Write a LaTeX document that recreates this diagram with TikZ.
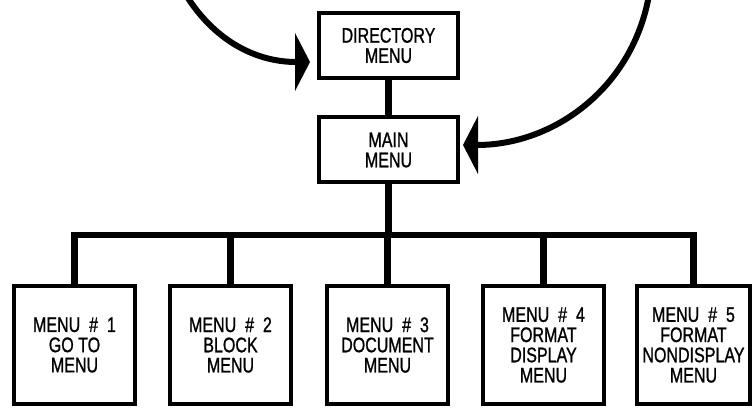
\documentclass[tikz,border=0pt]{standalone}
\usepackage{fontspec}
\setmainfont{Liberation Sans}[FakeStretch=0.76,FakeBold=1]
\usepackage{tikz}
\usetikzlibrary{arrows.meta,positioning,calc}

\begin{document}
\begin{tikzpicture}[
    box/.style={draw, line width=0.08cm, minimum width=2.78cm, minimum height=1.3cm, align=center, font=\fontsize{12}{11.5}\selectfont},
    menubox/.style={box, minimum width=2.42cm, minimum height=2.36cm},
    link/.style={line width=0.13cm},
    bigarrow/.style={-{Triangle[length=0.3cm,width=1.15cm]}, line width=0.12cm}
]
\useasboundingbox (0,0) rectangle (15.04,-8.18);

% Top boxes
\node[box] (dir) at (7.77,-0.91) {DIRECTORY\\MENU};
\node[box] (main) at (7.77,-3.0) {MAIN\\MENU};
\draw[link] (dir) -- (main);

% Sub menus
\node[menubox] (m1) at (1.49,-6.9) {MENU \ \# \ 1\\GO TO\\MENU};
\node[menubox] (m2) at (4.61,-6.9) {MENU \ \# \ 2\\BLOCK\\MENU};
\node[menubox] (m3) at (7.75,-6.9) {MENU \ \# \ 3\\DOCUMENT\\MENU};
\node[menubox] (m4) at (10.87,-6.9) {MENU \ \# \ 4\\FORMAT\\DISPLAY\\MENU};
\node[menubox, minimum width=2.22cm] (m5) at (13.87,-6.9) {MENU \ \# \ 5\\FORMAT\\NONDISPLAY\\MENU};

\coordinate (bus) at (7.77,-4.7);
\draw[link] (main) -- (bus);
\draw[link, line cap=rect] (m1.north |- bus) -- (m5.north |- bus);
\foreach \m in {m1,m2,m3,m4,m5}
    \draw[link] (\m.north |- bus) -- (\m.north);

% Entry arrows
\coordinate (lsrc) at (3.72,0.1);
\coordinate (rsrc) at (12.98,0.1);
\draw[bigarrow, shorten >=0.14cm] (lsrc) to[out=-58, in=180] ([yshift=-0.33cm]dir.west);
\draw[bigarrow, shorten >=0.06cm] (rsrc) to[out=-100, in=0] ([yshift=0.1cm]main.east);

\end{tikzpicture}
\end{document}
